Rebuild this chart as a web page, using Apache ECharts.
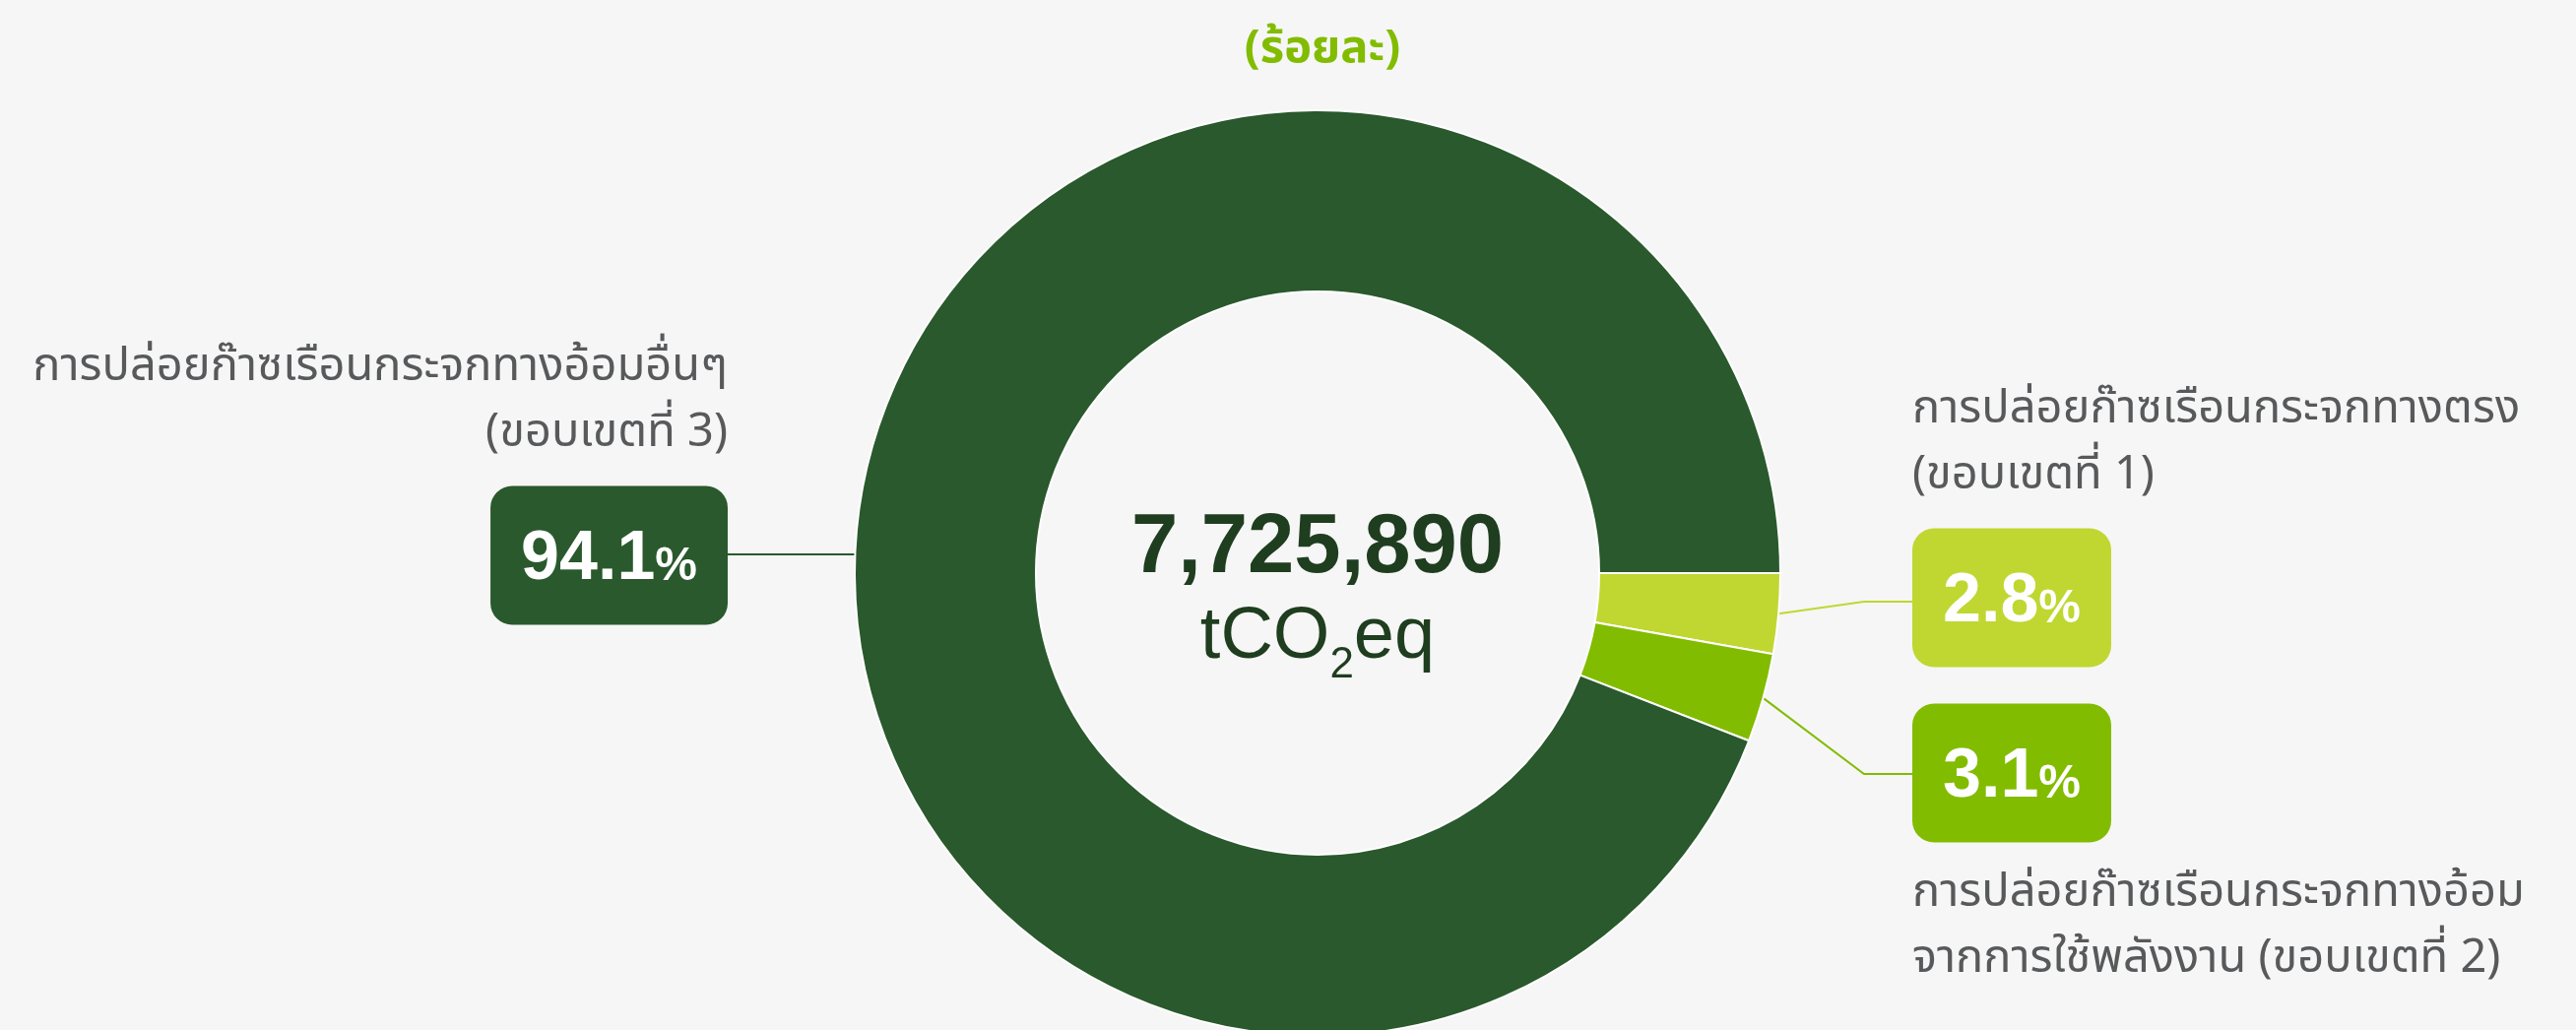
<!DOCTYPE html>
<html>
<head>
<meta charset="utf-8">
<script src="https://cdn.jsdelivr.net/npm/echarts@6/dist/echarts.min.js"></script>
<style>
  html, body { margin: 0; padding: 0; background: #f6f6f6; }
  #chart { width: 2616px; height: 1046px; }
</style>
</head>
<body>
<div id="chart"></div>
<script>
// data
var scopeNames = [
    'การปล่อยก๊าซเรือนกระจกทางตรง\n(ขอบเขตที่ 1)',
    'การปล่อยก๊าซเรือนกระจกทางอ้อม\nจากการใช้พลังงาน (ขอบเขตที่ 2)',
    'การปล่อยก๊าซเรือนกระจกทางอ้อมอื่นๆ\n(ขอบเขตที่ 3)'
];
var scopeShares = [2.8, 3.1, 94.1];
var totalEmission = '7,725,890';
var chartTitle = '(ร้อยละ)';

// styles / layout
var sliceColors = ['#c0d731', '#82bc00', '#29592c'];
var FONT = 'Arial, "Liberation Sans", Helvetica, sans-serif';
var THAI_FONT = '"Noto Sans Thai", "Noto Sans", sans-serif';
var CX = 1338, CY = 582, R_IN = 286, R_OUT = 470;
var BOX_H = 141;
var boxEdgeX = [1942, 1942, 739];   // side of the box the line meets
var boxMidY = [607, 785, 564];
var lineEndY = [611, 786, 563];
var elbowX = [1893, 1893, 800];
var nameBelow = [false, true, false];

var chart = echarts.init(document.getElementById('chart'));

var ringData = scopeShares.map(function (v, i) {
    return {
        value: v,
        name: scopeNames[i],
        itemStyle: { color: sliceColors[i] },
        label: { backgroundColor: sliceColors[i] }
    };
});
var nameData = scopeShares.map(function (v, i) {
    return { value: v, name: scopeNames[i] };
});

function isLeft(i) {
    return boxEdgeX[i] < CX;
}

var option = {
    backgroundColor: '#f6f6f6',
    animation: false,
    title: {
        text: chartTitle,
        left: CX,
        top: 25,
        textAlign: 'center',
        textStyle: { fontSize: 47, fontWeight: 'bold', color: '#82bc00', fontFamily: THAI_FONT }
    },
    graphic: [{
        type: 'text',
        x: CX, y: 558,
        style: {
            text: totalEmission,
            align: 'center', verticalAlign: 'middle',
            fontSize: 85, fontWeight: 'bold', fontFamily: FONT,
            fill: '#1f3d1f'
        }
    }, {
        type: 'text',
        x: CX, y: 648,
        style: {
            text: '{a|tCO}{b|2}{a|eq}',
            align: 'center', verticalAlign: 'middle',
            rich: {
                a: { fontSize: 74, fontFamily: FONT, fill: '#1f3d1f', color: '#1f3d1f' },
                b: { fontSize: 44, fontFamily: FONT, fill: '#1f3d1f', color: '#1f3d1f', padding: [56, 0, 0, 0] }
            }
        }
    }],
    series: [{
        // ring + percentage boxes
        type: 'pie',
        center: [CX, CY],
        radius: [R_IN, R_OUT],
        startAngle: 0,
        clockwise: true,
        silent: true,
        data: ringData,
        itemStyle: { borderColor: '#ffffff', borderWidth: 2 },
        label: {
            position: 'outside',
            padding: [41, 31, 32, 31],
            borderRadius: 22,
            formatter: function (p) {
                return '{v|' + p.value.toFixed(1) + '}{p|%}';
            },
            rich: {
                v: { fontSize: 70, lineHeight: 68, fontWeight: 'bold', color: '#ffffff', fontFamily: FONT },
                p: { fontSize: 48, lineHeight: 68, fontWeight: 'bold', color: '#ffffff', fontFamily: FONT, padding: [14, 0, 0, 0] }
            }
        },
        labelLine: { show: true, length: 80, length2: 50, lineStyle: { width: 2 } },
        labelLayout: function (p) {
            var i = p.dataIndex;
            var start;
            if (isLeft(i)) {
                var dy = lineEndY[i] - CY;
                start = [CX - Math.sqrt(R_OUT * R_OUT - dy * dy), lineEndY[i]];
            } else {
                start = p.labelLinePoints[0];
            }
            return {
                x: boxEdgeX[i],
                y: boxMidY[i],
                align: isLeft(i) ? 'right' : 'left',
                verticalAlign: 'middle',
                labelLinePoints: [start, [elbowX[i], lineEndY[i]], [boxEdgeX[i], lineEndY[i]]]
            };
        }
    }, {
        // category names next to the boxes
        type: 'pie',
        center: [CX, CY],
        radius: [R_IN, R_OUT],
        startAngle: 0,
        clockwise: true,
        silent: true,
        z: 1,
        data: nameData,
        itemStyle: { color: 'rgba(0,0,0,0)', borderWidth: 0 },
        label: {
            position: 'outside',
            formatter: '{b}',
            fontSize: 47,
            lineHeight: 67,
            color: '#58595b',
            fontFamily: THAI_FONT
        },
        labelLine: { show: false },
        labelLayout: function (p) {
            var i = p.dataIndex;
            var below = nameBelow[i];
            return {
                x: boxEdgeX[i],
                y: below ? boxMidY[i] + BOX_H / 2 + 21 : boxMidY[i] - BOX_H / 2 - 17,
                align: isLeft(i) ? 'right' : 'left',
                verticalAlign: below ? 'top' : 'bottom'
            };
        }
    }]
};

chart.setOption(option);
</script>
</body>
</html>
